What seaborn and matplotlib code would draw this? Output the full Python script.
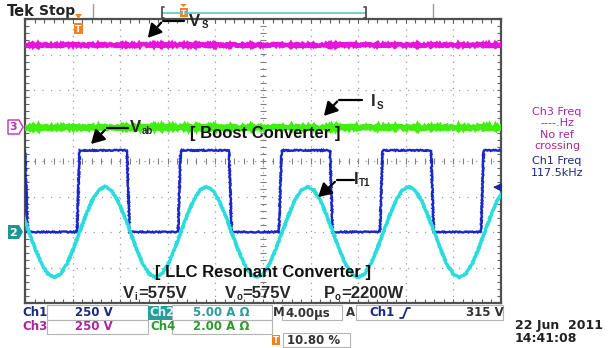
import numpy as np
import pandas as pd
import matplotlib
matplotlib.use("Agg")
import matplotlib.pyplot as plt
import seaborn as sns
from matplotlib.patches import Rectangle, Polygon, FancyArrowPatch
from matplotlib.lines import Line2D
from matplotlib.transforms import Affine2D
from matplotlib.ticker import MultipleLocator

time_per_div_us = 4.0
n_hdiv, n_vdiv = 10, 8
ch1_V_per_div = 250.0     # Vab
ch2_A_per_div = 5.0       # IT1
ch3_V_per_div = 250.0     # Vs
ch4_A_per_div = 2.0       # Is
ch12_ground_div = -2.0    # marker "2"
ch34_ground_div = 0.96    # marker "3"

vs_time_us = [0.0, 40.0]
vs_volts = [575.0, 575.0]

is_time_us = [0.0, 40.0]
is_amps = [0.0, 0.0]

vab_fall_us = [0.0, 8.57, 17.14, 25.63, 34.12]
vab_rise_us = [4.37, 12.86, 21.34, 29.83, 38.32]
vab_high_V = 575.0
vab_low_V = 0.0
vab_edge_us = 0.22

it1_freq_kHz = 117.5
it1_first_peak_us = 6.72
it1_one_period_A = [6.4, 5.9, 4.5, 2.4, 0.0, -2.4, -4.5, -5.9,
                    -6.4, -5.9, -4.5, -2.4, 0.0, 2.4, 4.5, 5.9]

trigger_level_V = 315.0

# ---------------- build traces ----------------
events = sorted([(t, 'f') for t in vab_fall_us] + [(t, 'r') for t in vab_rise_us])
vt, vv = [0.0], [vab_high_V]
for t, k in events:
    a, b = (vab_high_V, vab_low_V) if k == 'f' else (vab_low_V, vab_high_V)
    vt += [t, t + vab_edge_us]
    vv += [a, b]
vt.append(40.0); vv.append(vv[-1])
df_vab = pd.DataFrame({'t': vt, 'div': [ch12_ground_div + v / ch1_V_per_div for v in vv]})

period_us = 1000.0 / it1_freq_kHz
n_per = len(it1_one_period_A)
n_rep = 7
it_t = [it1_first_peak_us - period_us + k * period_us / n_per for k in range(n_per * n_rep + 1)]
it_a = (it1_one_period_A * (n_rep + 1))[:len(it_t)]
df_it = pd.DataFrame({'t': it_t, 'div': [ch12_ground_div + a / ch2_A_per_div for a in it_a]})

df_vs = pd.DataFrame({'t': vs_time_us, 'div': [ch34_ground_div + v / ch3_V_per_div for v in vs_volts]})
df_is = pd.DataFrame({'t': is_time_us, 'div': [ch34_ground_div + a / ch4_A_per_div for a in is_amps]})

# ---------------- figure ----------------
sns.set_theme(style="white")
plt.rcParams['font.family'] = ['DejaVu Sans']

W, H = 609, 348
fig = plt.figure(figsize=(W / 100, H / 100), dpi=100)
fig.patch.set_facecolor('white')
tr = Affine2D().scale(1 / W, -1 / H).translate(0, 1) + fig.transFigure

X0, X1, Y0, Y1 = 25, 501, 19, 303
ax = fig.add_axes([X0 / W, 1 - Y1 / H, (X1 - X0) / W, (Y1 - Y0) / H])
ax.set_facecolor('white')
tmax = time_per_div_us * n_hdiv
ax.set_xlim(0, tmax)
ax.set_ylim(-n_vdiv / 2, n_vdiv / 2)

gcol = '#9c9c9c'
for k in range(1, n_hdiv):
    ax.axvline(k * time_per_div_us, color=gcol, lw=0.9, ls=(0, (1, 4.2)), zorder=0)
for k in range(1, n_vdiv):
    ax.axhline(-n_vdiv / 2 + k, color=gcol, lw=0.9, ls=(0, (1, 5.8)), zorder=0)
# centre cross tick marks
xt = np.arange(0, tmax + 0.01, time_per_div_us / 5)
ax.plot(xt, np.zeros_like(xt), ls='none', marker='|', ms=5, mew=0.8, color='#808080', zorder=0)
yt = np.arange(-n_vdiv / 2, n_vdiv / 2 + 0.01, 0.2)
ax.plot(np.full_like(yt, tmax / 2), yt, ls='none', marker='_', ms=5, mew=0.8, color='#808080', zorder=0)

ax.xaxis.set_major_locator(MultipleLocator(time_per_div_us))
ax.xaxis.set_minor_locator(MultipleLocator(time_per_div_us / 5))
ax.yaxis.set_major_locator(MultipleLocator(1))
ax.yaxis.set_minor_locator(MultipleLocator(0.2))
ax.tick_params(which='both', direction='in', length=3, width=0.8, color='#606060',
               top=True, right=True, bottom=True, left=True,
               labelbottom=False, labelleft=False)
for s in ax.spines.values():
    s.set_color('#505050'); s.set_linewidth(1.6)

def trace(df, color, lw, z, sk):
    sns.lineplot(data=df, x='t', y='div', ax=ax, color=color, lw=lw,
                 estimator=None, sort=False, zorder=z)
    ln = ax.lines[-1]
    ln.set_sketch_params(*sk)
    ln.set_solid_joinstyle('miter')

trace(df_vs, '#e614dc', 3.2, 3, (1.0, 2.0, 3.0))
trace(df_is, '#40ee10', 3.6, 3, (1.2, 2.0, 3.0))
trace(df_vab, '#1a28c8', 1.7, 4, (0.55, 2.0, 3.0))
trace(df_it, '#2adcdc', 2.4, 5, (0.45, 2.0, 3.0))
ax.set_xlabel(''); ax.set_ylabel('')

# trigger level arrow on right edge
trig_div = ch12_ground_div + trigger_level_V / ch1_V_per_div
ax.annotate('', xy=(tmax - 0.9, trig_div), xytext=(tmax - 0.2, trig_div),
            arrowprops=dict(arrowstyle='-|>,head_length=0.4,head_width=0.2', color='#1a28a0', lw=1))

# ---------------- helpers in pixel coordinates ----------------
def txt(x, y, s, **kw):
    kw.setdefault('va', 'center'); kw.setdefault('ha', 'left')
    fig.text(x / W, 1 - y / H, s, **kw)

def line(xs, ys, **kw):
    fig.add_artist(Line2D(xs, ys, transform=tr, **kw))

def rect(x0, y0, x1, y1, **kw):
    fig.add_artist(Rectangle((x0, y1), x1 - x0, y0 - y1, transform=tr, **kw))

def arrow(x0, y0, x1, y1, **kw):
    fig.add_artist(FancyArrowPatch((x0, y0), (x1, y1), transform=tr,
                                   arrowstyle='-|>,head_length=0.8,head_width=0.45',
                                   mutation_scale=10, color='black', lw=1.6, **kw))

def ticon(x, y, w, h):
    rect(x, y, x + w, y + h, facecolor='#f08420', edgecolor='none')
    txt(x + w / 2, y + h / 2 + 0.5, 'T', ha='center', color='white', fontsize=h * 0.6, weight='bold')

# ---------------- header ----------------
txt(7, 12, 'Tek', fontsize=10.5, weight='bold', color='#222222')
txt(39, 11, 'Stop', fontsize=10, color='#222222', weight='semibold')
line([93, 93], [4, 17], color='#9a9a9a', lw=1)
line([433, 433], [4, 17], color='#9a9a9a', lw=1)
line([163, 365], [12.5, 12.5], color='#5ac8c8', lw=1.2)
line([164, 162, 162, 164], [7, 7, 18, 18], color='#444444', lw=1.2)
line([364, 366, 366, 364], [7, 7, 18, 18], color='#444444', lw=1.2)
fig.add_artist(Polygon([(180, 4), (187, 4), (183.5, 7)], closed=True, transform=tr,
                       facecolor='#f08420', edgecolor='none'))
ticon(179.5, 8, 8, 9)
# trigger point icon inside the graticule
fig.add_artist(Polygon([(75, 14), (82, 14), (78.5, 19)], closed=True, transform=tr,
                       facecolor='#f08420', edgecolor='none'))
ticon(74, 23, 9, 11)

# channel ground markers
fig.add_artist(Polygon([(8, 120), (19, 120), (23, 127), (19, 134), (8, 134)], closed=True,
                       transform=tr, facecolor='white', edgecolor='#c030b8', lw=1))
txt(13.5, 127.5, '3', ha='center', color='#c030b8', fontsize=8, weight='bold')
fig.add_artist(Polygon([(8, 225), (19, 225), (23, 232), (19, 239), (8, 239)], closed=True,
                       transform=tr, facecolor='#1e9696', edgecolor='none'))
txt(13.5, 232.5, '2', ha='center', color='white', fontsize=8, weight='bold')

# ---------------- annotations ----------------
LF = ['Liberation Sans', 'DejaVu Sans']
line([163, 184], [20.5, 20.5], color='black', lw=1.6)
arrow(163, 20.5, 146, 40)
txt(189, 21, 'V', fontsize=12, weight='bold', family=LF)
txt(201.5, 25, 'S', fontsize=7, weight='bold', family=LF)

line([339, 362], [99.5, 99.5], color='black', lw=1.6)
arrow(339, 99.5, 322, 118)
txt(371, 102, 'I', fontsize=12, weight='bold', family=LF)
txt(376.5, 106, 'S', fontsize=7, weight='bold', family=LF)

line([107, 128], [128, 128], color='black', lw=1.6)
arrow(107, 128, 89, 146)
txt(129.5, 127, 'V', fontsize=12, weight='bold', family=LF)
txt(141.5, 131, 'ab', fontsize=7, weight='bold', family=LF)

line([337, 354], [180, 180], color='black', lw=1.6)
arrow(337, 180, 316, 199)
txt(354, 179, 'I', fontsize=12, weight='bold', family=LF)
txt(358.5, 183.5, 'T1', fontsize=7, weight='bold', family=LF)

txt(190, 134, '[ Boost Converter ]', fontsize=12, weight='bold', family=LF, color='#111111')
txt(155, 272, '[ LLC Resonant Converter ]', fontsize=12, weight='bold', family=LF, color='#111111')

txt(123, 294, 'V', fontsize=12, weight='bold', family=LF)
txt(134.5, 297.5, 'i', fontsize=7, weight='bold', family=LF)
txt(138, 294, '=575V', fontsize=12, weight='bold', family=LF)
txt(225, 294, 'V', fontsize=12, weight='bold', family=LF)
txt(236.5, 297.5, 'o', fontsize=7, weight='bold', family=LF)
txt(242, 294, '=575V', fontsize=12, weight='bold', family=LF)
txt(324, 294, 'P', fontsize=12, weight='bold', family=LF)
txt(335, 297.5, 'o', fontsize=7, weight='bold', family=LF)
txt(341, 294, '=2200W', fontsize=12, weight='bold', family=LF)

# ---------------- right side readouts ----------------
mag, navy = '#a8289a', '#1c2a7c'
for yy, s, c in [(112, 'Ch3 Freq', mag), (123.5, '----.Hz', mag), (134.5, 'No ref', mag),
                 (146, 'crossing', mag), (161, 'Ch1 Freq', navy), (172.5, '117.5kHz', navy)]:
    txt(557, yy, s, ha='center', color=c, fontsize=8, weight='medium')

# ---------------- status bar ----------------
bc = '#b4b4b4'
for (a, b, c, d) in [(47, 305, 148, 320), (172, 305, 272, 320), (282, 305, 342, 320),
                     (356, 305, 503, 320), (47, 320, 148, 334), (172, 320, 272, 334),
                     (283, 333, 350, 347)]:
    rect(a, b, c, d, facecolor='none', edgecolor=bc, lw=0.8)
rect(148, 306, 172, 320, facecolor='#2a9c9c', edgecolor='none')

SF = 8.5
teal, green, dark = '#2a9c9c', '#2e9a2e', '#333333'
txt(22, 313, 'Ch1', color=navy, fontsize=SF, weight='bold')
txt(75, 313, '250 V', color=navy, fontsize=SF, weight='bold')
txt(149.5, 313, 'Ch2', color='#d8f2f2', fontsize=SF, weight='bold')
txt(193, 313, '5.00 A \u03a9', color=teal, fontsize=SF, weight='bold')
txt(273, 313, 'M', color=dark, fontsize=SF, weight='bold')
txt(285, 313, '4.00\u00b5s', color=dark, fontsize=SF, weight='bold')
txt(346, 313, 'A', color=dark, fontsize=SF, weight='bold')
txt(369, 313, 'Ch1', color=navy, fontsize=SF, weight='bold')
line([400, 403, 407, 410], [318, 318, 308, 308], color=navy, lw=1.3)
txt(466, 313, '315 V', color=dark, fontsize=SF, weight='bold')

txt(22, 327, 'Ch3', color=mag, fontsize=SF, weight='bold')
txt(75, 327, '250 V', color=mag, fontsize=SF, weight='bold')
txt(150, 327, 'Ch4', color=green, fontsize=SF, weight='bold')
txt(193, 327, '2.00 A \u03a9', color=green, fontsize=SF, weight='bold')

ticon(272, 335, 8, 10)
txt(287, 340, '10.80 %', color=dark, fontsize=SF, weight='bold')

txt(515, 326, '22 Jun  2011', color='#222222', fontsize=9, weight='bold')
txt(515, 339, '14:41:08', color='#222222', fontsize=9, weight='bold')

fig.savefig('out.png', dpi=100, facecolor='white')
